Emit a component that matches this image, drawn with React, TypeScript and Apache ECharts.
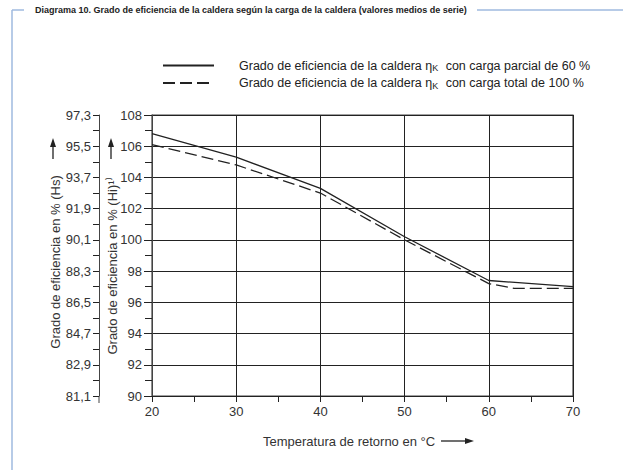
import React, { useEffect, useRef } from "react";
import * as echarts from "echarts";

const titleText =
  "Diagrama 10. Grado de eficiencia de la caldera según la carga de la caldera (valores medios de serie)";
const seriesNames = [
  "Grado de eficiencia de la caldera ηK con carga parcial de 60 %",
  "Grado de eficiencia de la caldera ηK con carga total de 100 %",
];
const partialX = [20, 30, 40, 50, 60, 70];
const partialY = [106.8, 105.3, 103.3, 100.2, 97.4, 97.0];
const totalX = [20, 30, 40, 50, 60, 63, 70];
const totalY = [106.1, 104.8, 103.0, 100.0, 97.2, 96.9, 96.9];
const hsLabels = ["81,1", "82,9", "84,7", "86,5", "88,3", "90,1", "91,9", "93,7", "95,5", "97,3"];
const hsName = "Grado de eficiencia en % (Hs)";
const hiName = "Grado de eficiencia en % (Hi)¹⁾";
const xName = "Temperatura de retorno en °C";

const FONT = "'Liberation Sans', Arial, sans-serif";
const INK = "#222";
const FRAME = "#9fbadf";

export default function App() {
  const ref = useRef<HTMLDivElement>(null);
  useEffect(() => {
    if (!ref.current) return;
    const chart = echarts.init(ref.current, undefined, { renderer: "svg" });
    const arrowUp = (x: number) => [
      { type: "line", shape: { x1: x, y1: 159, x2: x, y2: 145 }, style: { stroke: INK, lineWidth: 1.3 } },
      { type: "polygon", shape: { points: [[x - 3, 147], [x + 3, 147], [x, 138]] }, style: { fill: INK } },
    ];
    const option: any = {
      animation: false,
      backgroundColor: "#fff",
      textStyle: { fontFamily: FONT },
      grid: { left: 152, right: 50, top: 115, bottom: 74, show: true, borderColor: "#444", borderWidth: 1.2, backgroundColor: "transparent" },
      legend: {
        orient: "vertical",
        left: 157,
        top: 54,
        itemWidth: 51,
        itemHeight: 14,
        itemGap: 4,
        itemStyle: { opacity: 0 },
        formatter: (n: string) => n.replace("ηK", "η{sub|K}"),
        textStyle: {
          fontSize: 12.5,
          color: INK,
          fontFamily: FONT,
          padding: [0, 0, 0, 20],
          rich: { sub: { fontSize: 9, color: INK, fontFamily: FONT, verticalAlign: "bottom", padding: [5, 4, 0, 0] } },
        },
        data: seriesNames,
      },
      xAxis: {
        type: "value",
        min: 20,
        max: 70,
        interval: 10,
        axisLine: { lineStyle: { color: INK, width: 1 } },
        axisTick: { show: true, length: 6, lineStyle: { color: INK } },
        minorTick: { show: true, splitNumber: 2, length: 6, lineStyle: { color: INK } },
        splitLine: { show: true, lineStyle: { color: INK, width: 1 } },
        axisLabel: { fontSize: 13, color: "#333", margin: 9, fontFamily: FONT },
      },
      yAxis: [
        {
          type: "value",
          min: 90,
          max: 108,
          interval: 2,
          position: "left",
          axisLine: { show: true, lineStyle: { color: "#444", width: 1 } },
          axisTick: { show: true, length: 8, lineStyle: { color: INK } },
          minorTick: { show: true, splitNumber: 2, length: 7, lineStyle: { color: INK } },
          splitLine: { show: true, lineStyle: { color: INK, width: 1 } },
          axisLabel: { fontSize: 13, color: "#333", margin: 10, fontFamily: FONT },
        },
        {
          type: "value",
          min: 90,
          max: 108,
          interval: 2,
          position: "left",
          offset: 53,
          axisLine: { show: true, lineStyle: { color: "#444", width: 1 } },
          axisTick: { show: true, length: 6, lineStyle: { color: INK } },
          minorTick: { show: true, splitNumber: 2, length: 6, lineStyle: { color: INK } },
          splitLine: { show: false },
          axisLabel: {
            fontSize: 13,
            color: "#333",
            margin: 8,
            fontFamily: FONT,
            formatter: (v: number) => hsLabels[Math.round((v - 90) / 2)],
          },
        },
      ],
      series: [
        {
          name: seriesNames[0],
          type: "line",
          symbol: "none",
          yAxisIndex: 0,
          lineStyle: { color: INK, width: 1.3, type: "solid" },
          itemStyle: { color: INK },
          data: partialX.map((x, i) => [x, partialY[i]]),
        },
        {
          name: seriesNames[1],
          type: "line",
          symbol: "none",
          yAxisIndex: 0,
          lineStyle: { color: INK, width: 1.3, type: [12, 5] },
          itemStyle: { color: INK },
          data: totalX.map((x, i) => [x, totalY[i]]),
        },
      ],
      graphic: [
        { type: "line", shape: { x1: 12, y1: 10, x2: 24, y2: 10 }, style: { stroke: FRAME, lineWidth: 1.5 } },
        { type: "line", shape: { x1: 12, y1: 10, x2: 12, y2: 470 }, style: { stroke: FRAME, lineWidth: 1.5 } },
        { type: "line", shape: { x1: 477, y1: 10, x2: 623, y2: 10 }, style: { stroke: FRAME, lineWidth: 1.5 } },
        { type: "line", shape: { x1: 99, y1: 396, x2: 99, y2: 403 }, style: { stroke: "#444", lineWidth: 1 } },
        {
          type: "text",
          x: 35,
          y: 10,
          style: { text: titleText, font: `bold 9px ${FONT}`, fill: INK, verticalAlign: "middle", align: "left" },
        },
        {
          type: "text",
          x: 55,
          y: 262,
          rotation: Math.PI / 2,
          style: { text: hsName, font: `13px ${FONT}`, fill: "#333", align: "center", verticalAlign: "middle" },
        },
        {
          type: "text",
          x: 112,
          y: 266,
          rotation: Math.PI / 2,
          style: { text: hiName, font: `13px ${FONT}`, fill: "#333", align: "center", verticalAlign: "middle" },
        },
        ...arrowUp(53),
        ...arrowUp(111),
        {
          type: "text",
          x: 263,
          y: 441,
          style: { text: xName, font: `13px ${FONT}`, fill: "#333", align: "left", verticalAlign: "middle" },
        },
        { type: "line", shape: { x1: 441, y1: 441, x2: 466, y2: 441 }, style: { stroke: INK, lineWidth: 1.3 } },
        { type: "polygon", shape: { points: [[465, 438], [465, 444], [474, 441]] }, style: { fill: INK } },
      ],
    };
    chart.setOption(option);
    return () => chart.dispose();
  }, []);
  return <div ref={ref} style={{ position: "fixed", left: 0, top: 0, width: 623, height: 470 }} />;
}
